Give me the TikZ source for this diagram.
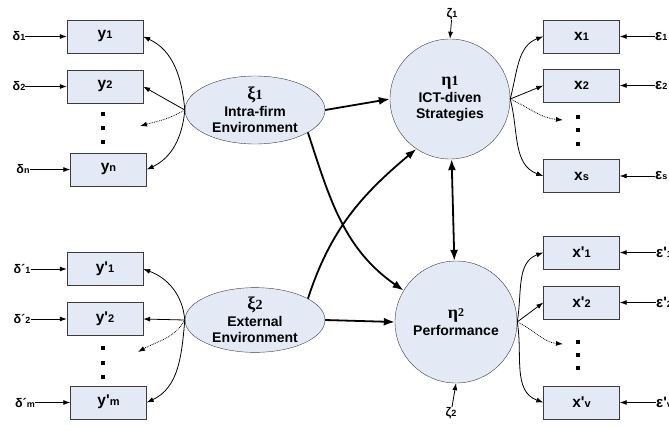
\documentclass[tikz,border=0pt]{standalone}
\usepackage{fontspec}
\setmainfont{Liberation Sans}
\newfontfamily\grk{Liberation Serif}
\usetikzlibrary{arrows.meta,shapes.geometric}
\definecolor{boxfill}{RGB}{228,234,245}
\definecolor{edgec}{RGB}{60,60,60}
\newcommand\smd[1]{{\fontsize{11}{11}\selectfont #1}}
\newcommand\sme[1]{{\fontsize{9}{9}\selectfont #1}}
\begin{document}
\begin{tikzpicture}[x=1pt,y=-1pt,
  obs/.style={draw=edgec, fill=boxfill, minimum width=76pt, minimum height=33pt, inner sep=0pt, font=\bfseries\fontsize{15.5}{15.5}\selectfont},
  lat/.style={draw=edgec, fill=boxfill, ellipse, minimum width=140pt, minimum height=68pt, inner sep=0pt, align=center, font=\bfseries\fontsize{14}{16.5}\selectfont},
  latc/.style={draw=edgec, fill=boxfill, circle, minimum size=120pt, inner sep=0pt, align=center, font=\bfseries\fontsize{14}{16.5}\selectfont},
  err/.style={inner sep=0pt, font=\bfseries\fontsize{12.5}{12.5}\selectfont},
  errr/.style={inner sep=0pt, anchor=west, font=\bfseries\fontsize{15}{15}\selectfont},
  meas/.style={-{Latex[length=7pt,width=5pt]}, line width=0.8pt},
  struct/.style={-{Latex[length=11pt,width=8pt]}, line width=1.8pt},
  dotarr/.style={-{Latex[length=7pt,width=5pt]}, line width=0.8pt, densely dotted},
  sq/.style={fill=black, minimum size=3.3pt, inner sep=0pt},
]
\useasboundingbox (0,0) rectangle (669,429);
\clip (0,0) rectangle (669,429);

% observed boxes
\node[obs] (y1) at (105,36.5) {y\smd{1}};
\node[obs] (y2) at (105,86.5) {y\smd{2}};
\node[obs] (yn) at (108.5,169.5) {y\smd{n}};
\node[obs] (yp1) at (105,269) {y\textquotesingle\smd{1}};
\node[obs] (yp2) at (105,319) {y\textquotesingle\smd{2}};
\node[obs] (ypm) at (108.5,402.5) {\raisebox{5pt}{y\textquotesingle\smd{m}}};
\node[obs] (x1) at (581.5,36.5) {x\smd{1}};
\node[obs] (x2) at (581.5,85.5) {x\smd{2}};
\node[obs] (xs) at (581.5,176) {x\smd{s}};
\node[obs] (xp1) at (581.5,252.5) {x\textquotesingle\smd{1}};
\node[obs] (xp2) at (581.5,302.5) {x\textquotesingle\smd{2}};
\node[obs] (xpv) at (581.5,402.5) {x\textquotesingle\smd{v}};

% latent variables
\node[lat] (xi1) at (255,110) {{\grk\fontsize{18}{18}\selectfont ξ\fontsize{14}{14}\selectfont 1}\\Intra-firm\\Environment};
\node[lat, minimum height=64pt] (xi2) at (255,320) {{\grk\fontsize{18}{18}\selectfont ξ\fontsize{14}{14}\selectfont 2}\\External\\Environment};
\node[latc] (eta1) at (450,99) {{\grk\bfseries\fontsize{18}{18}\selectfont η\fontsize{14}{14}\selectfont 1}\\ICT-diven\\Strategies};
\node[latc, minimum size=122pt] (eta2) at (456,322) {{\grk\bfseries\fontsize{18}{18}\selectfont η\raisebox{2pt}{\fontsize{12}{12}\selectfont 2}}\\Performance};

% error terms
\node[err] (d1) at (19,36.5) {δ\sme{1}};
\node[err] (d2) at (19,86.5) {δ\sme{2}};
\node[err] (dn) at (23,169.5) {δ\sme{n}};
\node[err] (dp1) at (22,269) {δ´\sme{1}};
\node[err] (dp2) at (22,319) {δ´\sme{2}};
\node[err] (dpm) at (25,402.5) {δ´\sme{m}};
\node[errr] (e1) at (655,36.5) {ε\sme{1}};
\node[errr] (e2) at (655,85.5) {ε\sme{2}};
\node[errr] (es) at (655,176) {ε\sme{s}};
\node[errr] (ep1) at (656,252.5) {ε\textquotesingle\sme{1}};
\node[errr] (ep2) at (656,302.5) {ε\textquotesingle\sme{2}};
\node[errr] (epv) at (656,402.5) {ε\textquotesingle\sme{v}};
\node[err] (z1) at (452,14) {ζ\sme{1}};
\node[err] (z2) at (451,413) {ζ\sme{2}};

% dots
\foreach \yy in {114,128,142,348,363,377} \node[sq] at (103,\yy) {};
\foreach \yy in {117,130,144,342,355,368} \node[sq] at (578,\yy) {};

% dotted arrow ends
\coordinate (dl1) at (140,126);
\coordinate (dl2) at (138,352);
\coordinate (dr1) at (563,120);
\coordinate (dr2) at (563,344);

% error arrows
\draw[meas] (d1) -- (y1);
\draw[meas] (d2) -- (y2);
\draw[meas] (dn) -- (yn);
\draw[meas] (dp1) -- (yp1);
\draw[meas] (dp2) -- (yp2);
\draw[meas] (dpm) -- (ypm);
\draw[meas] (e1.west) -- (x1.east);
\draw[meas] (e2.west) -- (x2.east);
\draw[meas] (es.west) -- (xs.east);
\draw[meas] (ep1.west) -- (xp1.east);
\draw[meas] (ep2.west) -- (xp2.east);
\draw[meas] (epv.west) -- (xpv.east);
\draw[meas] (z1) -- (eta1.north);
\draw[meas] (z2) -- (eta2.south);

% measurement arrows
\draw[meas] (xi1.west) to[out=95,in=-25] (y1.east);
\draw[meas] (xi1.west) -- (y2.east);
\draw[dotarr] (xi1.west) to[out=210,in=15] (dl1);
\draw[meas] (xi1.west) to[out=-95,in=25] (yn.east);

\draw[meas] (xi2.west) to[out=95,in=-20] (yp1.east);
\draw[meas] (xi2.west) -- (yp2.east);
\draw[dotarr] (xi2.west) to[out=240,in=30] (dl2);
\draw[meas] (xi2.west) to[out=-95,in=25] (ypm.east);

\draw[meas] (eta1.east) to[out=75,in=200] (x1.west);
\draw[meas] (eta1.east) -- (x2.west);
\draw[dotarr] (eta1.east) to[out=-25,in=175] (dr1);
\draw[meas] (eta1.east) to[out=-75,in=160] (xs.west);

\draw[meas] (eta2.east) to[out=80,in=200] (xp1.west);
\draw[meas] (eta2.east) -- (xp2.west);
\draw[dotarr] (eta2.east) to[out=-25,in=175] (dr2);
\draw[meas] (eta2.east) to[out=-80,in=160] (xpv.west);

% structural arrows
\draw[struct] (xi1.east) -- (eta1.west);
\draw[struct] (xi1.-23) to[out=-72,in=145] (eta2.149);
\draw[struct] (xi2.22) to[out=72,in=220] (eta1.-124);
\draw[struct] (xi2.east) -- (eta2.west);
\draw[struct,{Latex[length=11pt,width=8pt]}-{Latex[length=11pt,width=8pt]}] (eta1) -- (eta2);
\end{tikzpicture}
\end{document}
